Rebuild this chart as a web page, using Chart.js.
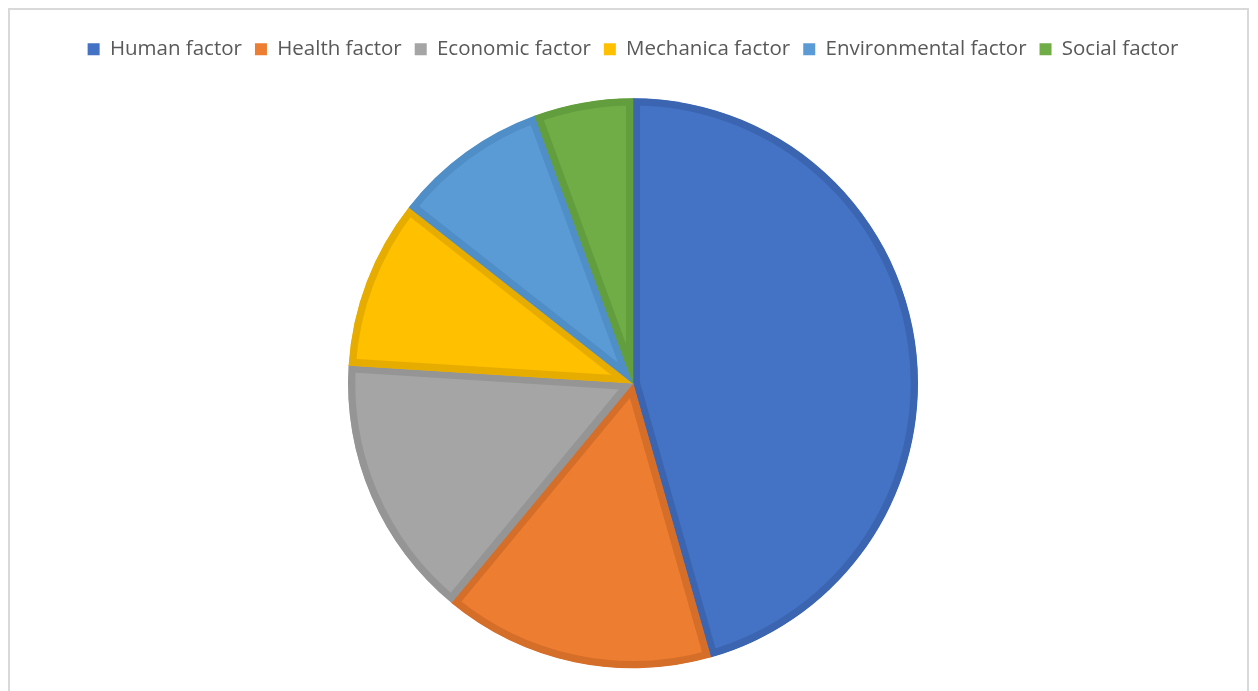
<!DOCTYPE html>
<html>
<head>
<meta charset="utf-8">
<script src="https://cdn.jsdelivr.net/npm/chart.js@4"></script>
<style>
  html, body { margin: 0; padding: 0; background: #fff; overflow: hidden; }
  .frame {
    position: absolute; left: 8px; top: 8px; width: 1241px; height: 700px;
    border: 2px solid #d9d9d9; box-sizing: border-box;
  }
  .wrap { position: absolute; left: 0; top: 0; width: 1258px; height: 697px; }
</style>
</head>
<body>
<div class="frame"></div>
<div class="wrap"><canvas id="pie"></canvas></div>
<script>
// data
const categories = [
  "Human factor",
  "Health factor",
  "Economic factor",
  "Mechanica factor",
  "Environmental factor",
  "Social factor",
];
const shares = [45.6, 15.4, 15.0, 9.6, 8.8, 5.6];
const fills = ["#4472C4", "#ED7D31", "#A5A5A5", "#FFC000", "#5B9BD5", "#70AD47"];
const borders = ["#3B65B0", "#D56E28", "#959595", "#E6AC00", "#4F8EC7", "#629E3D"];

new Chart(document.getElementById("pie"), {
  type: "pie",
  data: {
    labels: categories,
    datasets: [
      {
        data: shares,
        backgroundColor: fills,
        borderColor: borders,
        borderWidth: 7,
        borderAlign: "inner",
      },
    ],
  },
  options: {
    responsive: true,
    maintainAspectRatio: false,
    animation: false,
    radius: 285,
    layout: {
      padding: { top: 26, left: 8, right: 0, bottom: 0 },
    },
    plugins: {
      tooltip: { enabled: false },
      legend: {
        position: "top",
        labels: {
          boxWidth: 12,
          boxHeight: 12,
          padding: 13,
          color: "#595959",
          font: { size: 20.5, family: "Open Sans" },
          generateLabels: (chart) =>
            Chart.overrides.pie.plugins.legend.labels
              .generateLabels(chart)
              .map((item) => ({ ...item, lineWidth: 0 })),
        },
      },
    },
  },
});
</script>
</body>
</html>
